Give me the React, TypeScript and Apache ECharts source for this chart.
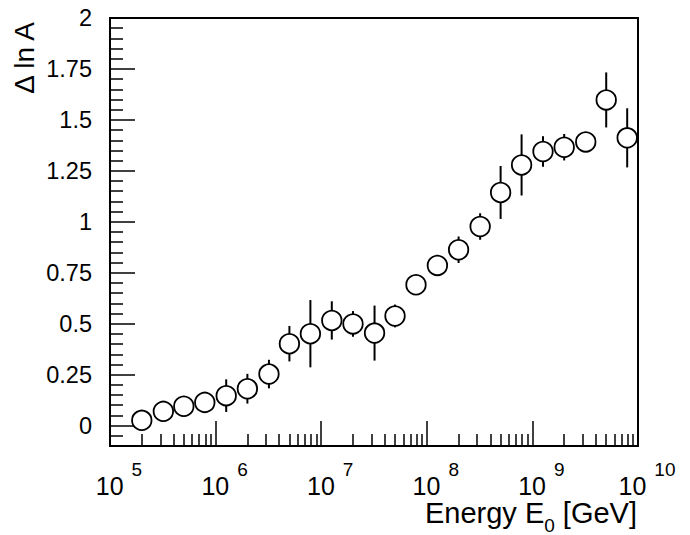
import React, { useEffect, useRef } from 'react';
import * as echarts from 'echarts';

// Energy E0 [GeV] of each measured point
const energies = [
  2.0e5, 3.2e5, 5.0e5, 7.9e5, 1.26e6, 2.0e6, 3.2e6, 5.0e6, 7.9e6, 1.26e7, 2.0e7, 3.2e7,
  5.0e7, 7.9e7, 1.26e8, 2.0e8, 3.2e8, 5.0e8, 7.9e8, 1.26e9, 2.0e9, 3.2e9, 5.0e9, 7.9e9,
];
// Δ ln A values
const deltaLnA = [
  0.026, 0.07, 0.095, 0.114, 0.147, 0.181, 0.253, 0.402, 0.451, 0.516, 0.499, 0.454,
  0.538, 0.691, 0.786, 0.863, 0.977, 1.144, 1.279, 1.345, 1.366, 1.392, 1.598, 1.412,
];
// symmetric errors
const errors = [
  0.02, 0.02, 0.02, 0.02, 0.08, 0.073, 0.07, 0.087, 0.165, 0.094, 0.063, 0.135,
  0.056, 0.03, 0.03, 0.065, 0.065, 0.13, 0.15, 0.075, 0.065, 0.03, 0.135, 0.145,
];

const xMajorTicks = [1e5, 1e6, 1e7, 1e8, 1e9, 1e10];
const xMinorMultipliers = [2, 3, 4, 5, 6, 7, 8, 9];
const yMajorTicks = [0, 0.25, 0.5, 0.75, 1, 1.25, 1.5, 1.75, 2];

const FONT = '"Liberation Sans", Arial, Helvetica, sans-serif';

export default function App() {
  const ref = useRef<HTMLDivElement>(null);

  useEffect(() => {
    if (!ref.current) return;
    const chart = echarts.init(ref.current, undefined, { renderer: 'svg' });

    const xMinorTicks: number[] = [];
    for (let d = 0; d < xMajorTicks.length - 1; d++) {
      for (const m of xMinorMultipliers) xMinorTicks.push(xMajorTicks[d] * m);
    }
    const yMinorTicks: number[] = [];
    for (let k = -1; k < 40; k++) {
      if (k % 5 !== 0) yMinorTicks.push(Math.round(k * 5) / 100);
    }

    const tickStyle = { color: '#000', width: 1.5 };
    const hiddenLine = { show: false, onZero: false };

    chart.setOption({
      animation: false,
      backgroundColor: '#fff',
      grid: {
        left: 110,
        right: 52,
        top: 18,
        bottom: 89,
        show: true,
        borderColor: '#000',
        borderWidth: 2,
        backgroundColor: 'transparent',
      },
      xAxis: [
        {
          type: 'log',
          logBase: 10,
          min: 1e5,
          max: 1e10,
          position: 'bottom',
          axisLine: hiddenLine,
          splitLine: { show: false },
          axisTick: { show: true, inside: true, length: 25, lineStyle: tickStyle, customValues: xMajorTicks },
          axisLabel: {
            show: true,
            customValues: xMajorTicks,
            margin: 27,
            formatter: (v: number) => `{b|10}{s|${Math.round(Math.log10(v))}}`,
            rich: {
              b: { fontSize: 25, fontFamily: FONT, color: '#000', padding: [0, 0, 0, 18], verticalAlign: 'bottom', lineHeight: 25 },
              s: { fontSize: 19, fontFamily: FONT, color: '#000', padding: [0, 0, 19, 8], verticalAlign: 'bottom', lineHeight: 19 },
            },
          },
        },
        {
          type: 'log',
          logBase: 10,
          min: 1e5,
          max: 1e10,
          position: 'bottom',
          axisLine: hiddenLine,
          splitLine: { show: false },
          axisTick: { show: true, inside: true, length: 12, lineStyle: tickStyle, customValues: xMinorTicks },
          axisLabel: { show: false },
        },
      ],
      yAxis: [
        {
          type: 'value',
          min: -0.1,
          max: 2,
          position: 'left',
          axisLine: hiddenLine,
          splitLine: { show: false },
          axisTick: { show: true, inside: true, length: 25, lineStyle: tickStyle, customValues: yMajorTicks },
          axisLabel: {
            show: true,
            customValues: yMajorTicks,
            margin: 18,
            fontSize: 23.5,
            fontFamily: FONT,
            color: '#000',
            formatter: (v: number) => String(v),
          },
        },
        {
          type: 'value',
          min: -0.1,
          max: 2,
          position: 'left',
          offset: 0,
          axisLine: hiddenLine,
          splitLine: { show: false },
          axisTick: { show: true, inside: true, length: 13, lineStyle: tickStyle, customValues: yMinorTicks },
          axisLabel: { show: false },
        },
      ],
      graphic: [
        {
          type: 'text',
          x: 24,
          y: 22,
          rotation: Math.PI / 2,
          style: {
            text: 'Δ ln A',
            font: `28px ${FONT}`,
            fill: '#000',
            align: 'right',
            verticalAlign: 'middle',
            textAlign: 'right',
            textVerticalAlign: 'middle',
          },
        },
        {
          type: 'text',
          x: 637,
          y: 535,
          style: {
            text: '{a|Energy E}{c|0}{a| [GeV]}',
            fill: '#000',
            align: 'right',
            verticalAlign: 'bottom',
            textAlign: 'right',
            textVerticalAlign: 'bottom',
            rich: {
              a: { fontSize: 29, fontFamily: FONT, fill: '#000', color: '#000', padding: [0, 0, 8, 0], verticalAlign: 'bottom' },
              c: { fontSize: 19, fontFamily: FONT, fill: '#000', color: '#000', verticalAlign: 'bottom' },
            },
          },
        },
      ],
      series: [
        {
          type: 'custom',
          xAxisIndex: 0,
          yAxisIndex: 0,
          z: 1,
          data: energies.map((e, i) => [e, deltaLnA[i] - errors[i], deltaLnA[i] + errors[i]]),
          encode: { x: 0, y: [1, 2] },
          renderItem: (params: any, api: any) => {
            const lo = api.coord([api.value(0), api.value(1)]);
            const hi = api.coord([api.value(0), api.value(2)]);
            return {
              type: 'line',
              shape: { x1: lo[0], y1: lo[1], x2: hi[0], y2: hi[1] },
              style: { stroke: '#000', lineWidth: 2 },
            };
          },
        },
        {
          type: 'scatter',
          xAxisIndex: 0,
          yAxisIndex: 0,
          z: 2,
          symbol: 'circle',
          symbolSize: 19.5,
          itemStyle: { color: '#fff', borderColor: '#000', borderWidth: 1.8, opacity: 1 },
          data: energies.map((e, i) => [e, deltaLnA[i]]),
        },
      ],
    });

    return () => chart.dispose();
  }, []);

  return (
    <div
      ref={ref}
      style={{ position: 'absolute', left: 0, top: 0, width: 690, height: 535, background: '#fff' }}
    />
  );
}
